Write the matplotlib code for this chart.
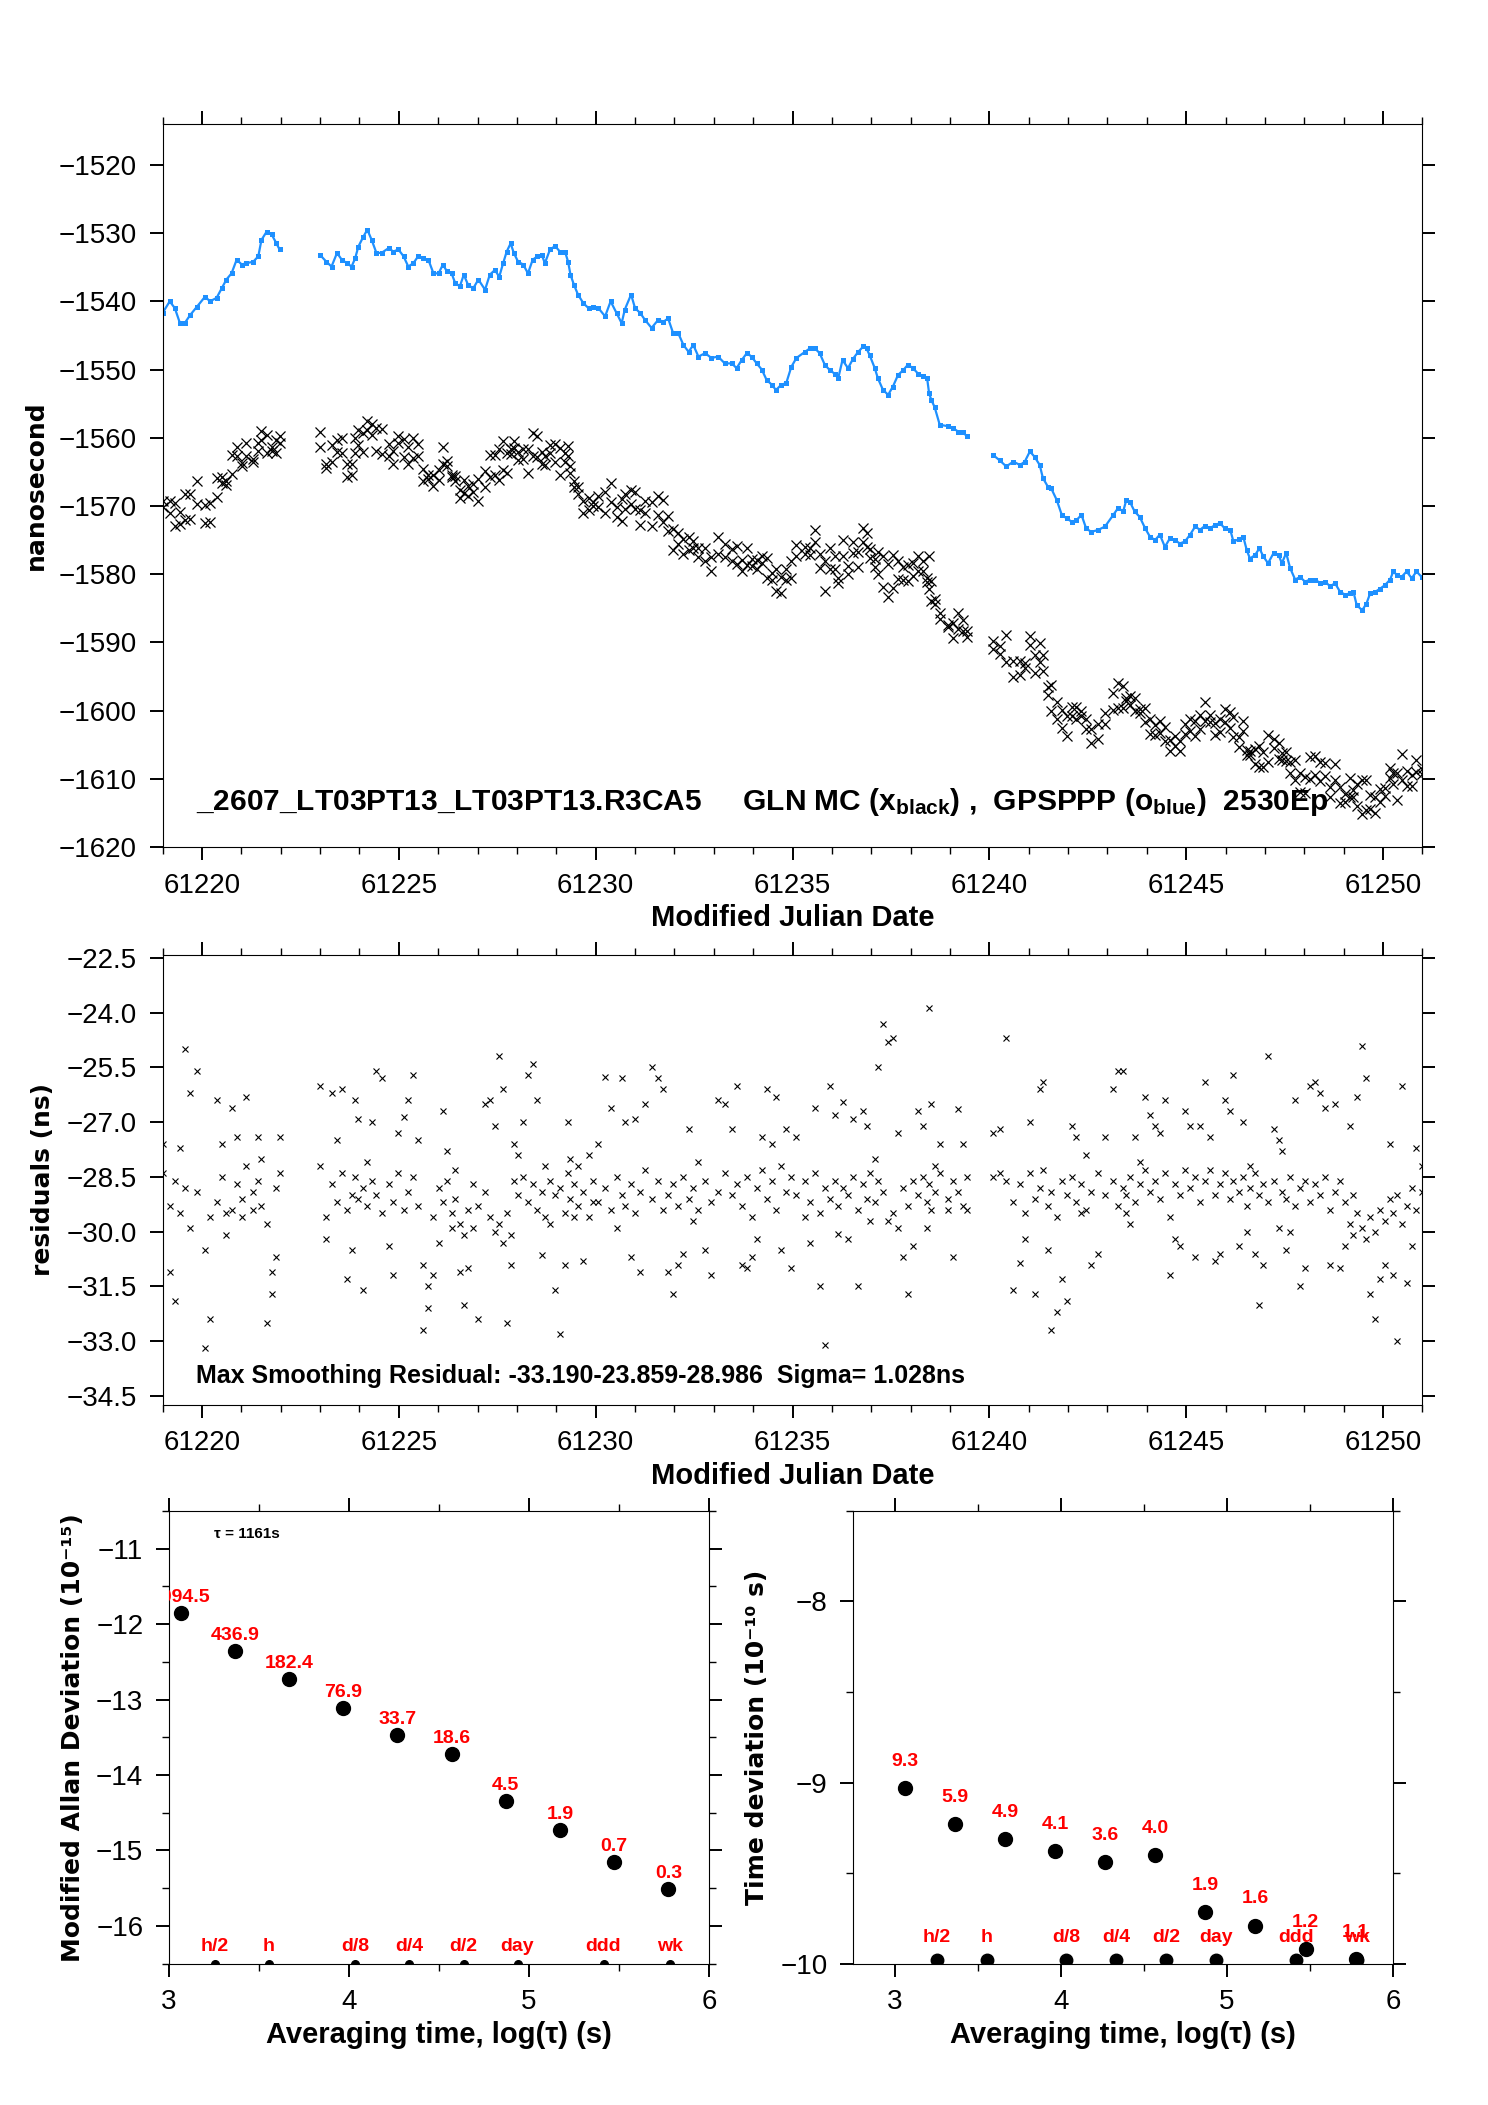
import numpy as np
import matplotlib
matplotlib.use("Agg")
import matplotlib.pyplot as plt
from matplotlib.ticker import MultipleLocator, FuncFormatter

plt.rcParams["font.family"] = ["Liberation Sans", "DejaVu Sans"]
plt.rcParams["mathtext.fontset"] = "custom"
plt.rcParams["mathtext.rm"] = "Liberation Sans"
plt.rcParams["mathtext.bf"] = "Liberation Sans:bold"
plt.rcParams["mathtext.it"] = "Liberation Sans:italic"
plt.rcParams["axes.unicode_minus"] = True

# ---- time series (MJD, GPSPPP in ns, residual GLN MC - GPSPPP in ns) ----
mjd = [
    61219.00, 61219.18, 61219.31, 61219.44, 61219.56, 61219.70, 61219.87, 61220.08, 61220.20, 61220.37,
    61220.50, 61220.62, 61220.75, 61220.88, 61221.01, 61221.13, 61221.30, 61221.43, 61221.51, 61221.64,
    61221.77, 61221.89, 61221.97,
    61223.00, 61223.16, 61223.29, 61223.43, 61223.55, 61223.68, 61223.80, 61223.89, 61223.97, 61224.10,
    61224.20, 61224.31, 61224.43, 61224.56, 61224.74, 61224.86, 61224.99, 61225.12, 61225.24, 61225.37,
    61225.49, 61225.62, 61225.75, 61225.88, 61226.01, 61226.12, 61226.22, 61226.34, 61226.43, 61226.55,
    61226.65, 61226.76, 61226.89, 61227.02,
    61227.19, 61227.31, 61227.44, 61227.55, 61227.65, 61227.74, 61227.84, 61227.92, 61228.03, 61228.16,
    61228.28, 61228.40, 61228.52, 61228.63, 61228.71, 61228.84, 61228.97, 61229.09, 61229.22, 61229.30,
    61229.36, 61229.45, 61229.55, 61229.69, 61229.82, 61229.94, 61230.07, 61230.24, 61230.38, 61230.53,
    61230.66, 61230.74, 61230.90, 61231.00, 61231.13, 61231.25, 61231.42, 61231.59, 61231.72, 61231.84,
    61231.97, 61232.10, 61232.23, 61232.36, 61232.48, 61232.61, 61232.78, 61232.94, 61233.11, 61233.28,
    61233.46, 61233.58, 61233.71, 61233.84, 61233.96, 61234.09, 61234.22, 61234.34, 61234.47, 61234.58,
    61234.72, 61234.84, 61234.97, 61235.10,
    61235.32, 61235.44, 61235.57, 61235.69, 61235.82, 61235.95, 61236.07, 61236.16, 61236.27, 61236.41,
    61236.54, 61236.67, 61236.80, 61236.88, 61236.96, 61237.09, 61237.17, 61237.30, 61237.43, 61237.55,
    61237.68, 61237.81, 61237.93, 61238.06, 61238.19, 61238.32, 61238.42, 61238.47, 61238.53, 61238.61,
    61238.74, 61238.95, 61239.08, 61239.21, 61239.34, 61239.42,
    61240.09, 61240.26, 61240.43, 61240.61, 61240.78, 61240.90, 61241.03, 61241.15, 61241.28, 61241.36,
    61241.49, 61241.57, 61241.71, 61241.84, 61241.96, 61242.09, 61242.21, 61242.34, 61242.46, 61242.59,
    61242.77, 61242.94,
    61243.15, 61243.27, 61243.40, 61243.48, 61243.57, 61243.69, 61243.82, 61243.96, 61244.08, 61244.21,
    61244.33, 61244.46, 61244.59, 61244.71, 61244.84, 61244.97, 61245.10, 61245.23, 61245.35, 61245.48,
    61245.60, 61245.73, 61245.86, 61245.98, 61246.12, 61246.20, 61246.33, 61246.45, 61246.54, 61246.62,
    61246.75, 61246.86, 61246.96, 61247.08, 61247.22, 61247.35, 61247.43, 61247.54, 61247.64, 61247.77,
    61247.89, 61248.02, 61248.14, 61248.27, 61248.41, 61248.53, 61248.66, 61248.78, 61248.91, 61249.04,
    61249.16, 61249.25, 61249.33, 61249.47, 61249.58, 61249.68, 61249.80, 61249.93, 61250.05, 61250.18,
    61250.26, 61250.35, 61250.47, 61250.60, 61250.73, 61250.85, 61250.98,
]

gps_ns = [
    -1541.7, -1540.0, -1541.0, -1543.2, -1543.2, -1542.0, -1540.8, -1539.3, -1540.0, -1539.5,
    -1538.1, -1536.8, -1535.9, -1533.9, -1534.6, -1534.4, -1534.2, -1533.4, -1531.0, -1529.8,
    -1530.2, -1531.5, -1532.4,
    -1533.2, -1534.2, -1534.9, -1532.9, -1533.9, -1534.4, -1534.9, -1533.7, -1532.0, -1530.5,
    -1529.5, -1531.0, -1532.9, -1532.9, -1532.2, -1532.7, -1532.4, -1533.4, -1534.9, -1534.4,
    -1533.4, -1533.7, -1533.9, -1535.9, -1535.9, -1534.6, -1535.6, -1535.9, -1537.3, -1537.8,
    -1536.1, -1537.6, -1538.1, -1536.8,
    -1538.3, -1536.1, -1535.4, -1536.4, -1534.4, -1532.7, -1531.5, -1532.9, -1534.2, -1534.6,
    -1535.9, -1533.9, -1533.4, -1533.2, -1534.4, -1532.4, -1531.9, -1532.7, -1532.7, -1534.2,
    -1536.1, -1537.6, -1539.0, -1540.3, -1541.0, -1540.8, -1541.0, -1542.2, -1540.0, -1541.7,
    -1543.2, -1541.2, -1539.0, -1541.0, -1541.7, -1542.7, -1543.9, -1542.7, -1543.0, -1542.5,
    -1544.7, -1544.7, -1546.4, -1547.4, -1546.4, -1548.1, -1547.6, -1548.3, -1548.1, -1549.1,
    -1549.1, -1549.8, -1548.6, -1547.6, -1548.1, -1549.1, -1550.0, -1551.5, -1552.2, -1553.0,
    -1552.2, -1552.0, -1549.6, -1548.3,
    -1547.4, -1546.9, -1546.9, -1547.6, -1549.3, -1550.1, -1550.6, -1551.3, -1548.6, -1549.8,
    -1548.4, -1547.4, -1546.6, -1546.9, -1547.9, -1549.8, -1551.3, -1553.0, -1553.7, -1552.5,
    -1550.8, -1550.1, -1549.3, -1549.8, -1550.6, -1551.0, -1551.3, -1553.5, -1554.5, -1555.5,
    -1558.1, -1558.3, -1558.6, -1559.1, -1559.1, -1559.8,
    -1562.5, -1563.3, -1564.2, -1563.5, -1564.0, -1563.5, -1562.0, -1562.8, -1564.0, -1565.9,
    -1567.2, -1567.4, -1569.1, -1571.3, -1571.8, -1572.3, -1572.1, -1571.3, -1573.3, -1573.8,
    -1573.5, -1573.0,
    -1571.3, -1570.3, -1570.8, -1569.1, -1569.4, -1570.8, -1571.6, -1573.3, -1574.5, -1575.0,
    -1574.2, -1576.0, -1574.7, -1575.0, -1575.5, -1575.2, -1574.2, -1573.0, -1573.5, -1572.9,
    -1573.3, -1572.8, -1572.5, -1573.3, -1573.5, -1575.2, -1574.9, -1574.5, -1576.5, -1577.7,
    -1577.2, -1576.2, -1577.4, -1578.4, -1576.9, -1577.2, -1578.4, -1576.9, -1579.1, -1580.8,
    -1580.4, -1581.1, -1580.8, -1580.8, -1581.3, -1581.1, -1581.8, -1581.3, -1582.6, -1583.0,
    -1582.8, -1582.6, -1584.5, -1585.3, -1584.3, -1582.7, -1582.6, -1582.1, -1581.6, -1580.8,
    -1579.6, -1580.1, -1580.4, -1579.6, -1580.6, -1579.6, -1580.4,
]

# two residual samples read at each epoch (dense band + scattered points)
resid_a = [
    -28.4, -29.3, -28.6, -29.5, -28.8, -29.9, -28.9, -30.5, -29.6, -29.2,
    -28.5, -29.5, -29.4, -28.7, -29.1, -28.2, -28.9, -28.6, -29.3, -29.8,
    -31.1, -28.8, -28.4,
    -28.2, -29.6, -28.7, -29.2, -28.4, -29.4, -29.0, -28.5, -29.1, -28.8,
    -29.3, -28.6, -29.0, -29.5, -28.7, -29.2, -28.4, -29.4, -28.9, -28.5,
    -29.3, -30.9, -31.5, -29.6, -28.8, -29.2, -28.6, -29.5, -29.1, -29.8,
    -30.1, -29.4, -28.7, -29.3,
    -28.9, -29.6, -30.0, -29.8, -30.3, -29.5, -30.1, -28.6, -29.0, -28.5,
    -29.2, -28.7, -29.4, -28.9, -29.6, -28.6, -29.0, -28.8, -29.5, -28.4,
    -29.1, -28.7, -29.3, -28.9, -29.6, -28.6, -29.2, -28.8, -29.4, -28.5,
    -29.0, -29.3, -28.7, -29.5, -28.9, -28.3, -29.1, -28.6, -29.4, -29.0,
    -28.7, -29.3, -28.5, -29.1, -28.8, -29.4, -28.6, -29.2, -28.9, -28.4,
    -29.0, -28.7, -29.3, -28.5, -29.6, -28.8, -28.3, -29.1, -28.6, -29.4,
    -28.2, -28.9, -28.5, -29.0,
    -28.6, -29.2, -28.4, -29.5, -28.8, -29.1, -28.6, -29.3, -28.8, -29.0,
    -28.5, -29.4, -28.7, -29.1, -28.4, -29.2, -28.6, -28.9, -29.7, -29.5,
    -29.9, -28.8, -29.3, -28.6, -29.0, -28.5, -29.2, -28.7, -29.4, -28.9,
    -28.4, -29.1, -28.6, -28.9, -29.3, -28.5,
    -28.5, -28.4, -28.6, -29.2, -28.7, -29.5, -28.4, -29.1, -28.8, -28.3,
    -29.3, -28.9, -29.6, -28.6, -29.0, -28.5, -29.2, -28.7, -29.4, -28.9,
    -28.4, -29.0,
    -28.6, -29.3, -28.8, -29.0, -28.5, -29.2, -28.7, -28.3, -28.9, -28.6,
    -29.1, -28.4, -29.6, -28.7, -29.0, -28.3, -28.8, -28.5, -29.2, -28.6,
    -28.3, -29.0, -28.7, -28.4, -29.1, -28.6, -28.9, -28.5, -29.3, -28.8,
    -28.4, -29.0, -28.7, -29.2, -28.6, -29.9, -28.9, -29.1, -28.5, -29.3,
    -28.8, -28.6, -29.2, -28.7, -29.0, -28.5, -29.4, -28.9, -28.6, -29.2,
    -29.8, -29.0, -29.5, -29.9, -30.2, -29.6, -30.0, -29.4, -29.7, -29.1,
    -29.5, -29.0, -29.8, -29.3, -28.8, -29.4, -28.9,
]

resid_b = [
    -27.6, -31.1, -31.9, -27.7, -25.0, -26.2, -25.6, -33.2, -32.4, -26.4,
    -27.6, -30.1, -26.6, -27.4, -29.6, -26.3, -29.4, -27.4, -28.0, -32.5,
    -31.7, -30.7, -27.4,
    -26.0, -30.2, -26.2, -27.5, -26.1, -31.3, -30.5, -26.4, -26.9, -31.6,
    -28.1, -27.0, -25.6, -25.8, -30.4, -31.2, -27.3, -26.85, -26.4, -25.7,
    -27.5, -32.7, -32.1, -31.2, -30.3, -26.7, -27.8, -29.9, -28.3, -31.1,
    -32.0, -31.0, -29.9, -32.4,
    -26.5, -26.4, -27.1, -25.2, -26.1, -32.5, -30.9, -27.6, -27.9, -27.0,
    -25.7, -25.4, -26.4, -30.65, -28.2, -29.8, -31.6, -32.8, -30.9, -27.0,
    -28.0, -29.6, -28.2, -30.8, -27.9, -29.2, -27.6, -25.75, -26.6, -29.9,
    -25.8, -27.0, -30.7, -26.9, -31.1, -26.5, -25.5, -25.8, -26.1, -31.1,
    -31.7, -30.9, -30.6, -27.2, -29.7, -28.1, -30.5, -31.2, -26.4, -26.5,
    -27.2, -26.0, -30.9, -31.0, -30.7, -30.2, -27.4, -26.1, -27.6, -26.3,
    -30.5, -27.2, -31.0, -27.4,
    -29.6, -30.3, -26.6, -31.5, -33.1, -26.0, -26.8, -30.05, -26.45, -30.2,
    -26.9, -31.5, -26.7, -27.1, -29.7, -28.0, -25.5, -24.3, -24.8, -24.7,
    -27.3, -30.7, -31.7, -30.4, -26.7, -27.1, -29.9, -23.86, -26.5, -28.2,
    -27.6, -29.4, -30.7, -26.65, -27.6, -29.4,
    -27.3, -27.2, -24.7, -31.6, -30.85, -30.2, -27.0, -31.7, -26.1, -25.9,
    -30.5, -32.7, -32.2, -31.3, -31.9, -27.1, -27.4, -29.5, -27.9, -30.9,
    -30.6, -27.4,
    -26.1, -25.6, -25.6, -29.5, -29.8, -27.4, -28.1, -26.3, -26.8, -27.1,
    -27.3, -26.4, -31.2, -30.2, -30.4, -26.7, -27.1, -30.7, -27.1, -25.9,
    -27.4, -30.8, -30.6, -26.4, -26.7, -25.7, -30.4, -27.0, -30.0, -28.2,
    -30.6, -32.0, -30.9, -25.2, -27.2, -27.5, -27.8, -30.5, -30.0, -26.4,
    -31.5, -31.0, -26.0, -25.9, -26.2, -26.6, -30.9, -26.5, -31.0, -30.4,
    -27.1, -30.1, -26.3, -24.9, -25.8, -31.7, -32.4, -31.3, -30.9, -27.6,
    -31.2, -33.0, -26.0, -31.4, -30.4, -27.7, -28.2,
]

# ---- stability panels ----
log_tau = [3.065, 3.366, 3.667, 3.968, 4.269, 4.570, 4.871, 5.172, 5.473, 5.774]
mdev = [-11.85, -12.36, -12.73, -13.11, -13.47, -13.72, -14.35, -14.73, -15.15, -15.51]
mdev_lbl = ["1094.5", "436.9", "182.4", "76.9", "33.7", "18.6", "4.5", "1.9", "0.7", "0.3"]
tdev = [-9.03, -9.23, -9.31, -9.38, -9.44, -9.40, -9.715, -9.79, -9.92, -9.975]
tdev_lbl = ["9.3", "5.9", "4.9", "4.1", "3.6", "4.0", "1.9", "1.6", "1.2", "1.1"]
ref_names = ["h/2", "h", "d/8", "d/4", "d/2", "day", "ddd", "wk"]
ref_log = [3.255, 3.556, 4.033, 4.334, 4.636, 4.936, 5.414, 5.782]
ref_mdev = -16.5
ref_tdev = -9.98

title_txt = (r"_2607_LT03PT13_LT03PT13.R3CA5     GLN MC (x$_{\mathbf{black}}$) ,  "
             r"GPSPPP (o$_{\mathbf{blue}}$)  2530Ep")
resid_txt = "Max Smoothing Residual: -33.190-23.859-28.986  Sigma= 1.028ns"

mjd = np.array(mjd)
gps = np.array(gps_ns)
ra = np.array(resid_a)
rb = np.array(resid_b)

minus = lambda fmt: FuncFormatter(lambda v, p: (fmt % v).replace("-", "\u2212"))


def style(ax):
    ax.tick_params(which="major", direction="out", length=9.5, width=1.4,
                   labelsize=20, pad=9, top=True, right=True)
    ax.tick_params(which="minor", direction="out", length=5, width=1.0,
                   top=True, right=True)
    for s in ax.spines.values():
        s.set_linewidth(0.8)


fig = plt.figure(figsize=(14.88, 21.05), dpi=100)

# top: GPSPPP and GLN MC
ax1 = fig.add_axes([0.1093, 0.5976, 0.8466, 0.3435])
breaks = np.where(np.diff(mjd) > 0.5)[0] + 1
for seg in np.split(np.arange(len(mjd)), breaks):
    ax1.plot(mjd[seg], gps[seg], color="#1E90FF", lw=1.6, marker="s", ms=3.6, mew=0)
ax1.plot(mjd, gps + ra, "x", color="black", ms=6.5, mew=0.9)
ax1.plot(mjd, gps + rb, "x", color="black", ms=6.5, mew=0.9)
ax1.set_xlim(61219, 61251)
ax1.set_ylim(-1620, -1514)
ax1.xaxis.set_major_locator(MultipleLocator(5))
ax1.xaxis.set_minor_locator(MultipleLocator(1))
ax1.yaxis.set_major_locator(MultipleLocator(10))
ax1.xaxis.set_major_formatter(minus("%.0f"))
ax1.yaxis.set_major_formatter(minus("%.0f"))
style(ax1)
ax1.set_ylabel("nanosecond", fontsize=18, fontweight="bold", family="DejaVu Sans", labelpad=8)
ax1.set_xlabel("Modified Julian Date", fontsize=21, fontweight="bold", labelpad=4)
ax1.text(61219.85, -1614.6, title_txt, fontsize=21.5, fontweight="bold", va="baseline")

# middle: residuals
ax2 = fig.add_axes([0.1093, 0.3327, 0.8466, 0.2136])
ax2.plot(mjd, ra, "x", color="black", ms=4.8, mew=0.8)
ax2.plot(mjd, rb, "x", color="black", ms=4.8, mew=0.8)
ax2.set_xlim(61219, 61251)
ax2.set_ylim(-34.74, -22.42)
ax2.xaxis.set_major_locator(MultipleLocator(5))
ax2.xaxis.set_minor_locator(MultipleLocator(1))
ax2.yaxis.set_major_locator(MultipleLocator(1.5))
ax2.xaxis.set_major_formatter(minus("%.0f"))
ax2.yaxis.set_major_formatter(minus("%.1f"))
style(ax2)
ax2.set_ylabel("residuals (ns)", fontsize=18, fontweight="bold", family="DejaVu Sans", labelpad=8)
ax2.set_xlabel("Modified Julian Date", fontsize=21, fontweight="bold", labelpad=4)
ax2.text(61219.85, -34.15, resid_txt, fontsize=18, fontweight="bold", va="baseline")

# bottom left: modified Allan deviation
ax3 = fig.add_axes([0.1136, 0.0672, 0.3629, 0.2150])
ax3.plot(log_tau, mdev, "o", color="black", ms=10)
ax3.plot(ref_log, [ref_mdev] * len(ref_log), "o", color="black", ms=5.5)
for x, y, s in zip(log_tau, mdev, mdev_lbl):
    ax3.annotate(s, (x, y), xytext=(0, 5), textcoords="offset points", ha="center",
                 va="bottom", color="red", fontsize=14, fontweight="bold", annotation_clip=False,
                 clip_on=True)
for x, s in zip(ref_log, ref_names):
    ax3.annotate(s, (x, ref_mdev), xytext=(0, 6), textcoords="offset points", ha="center",
                 va="bottom", color="red", fontsize=14, fontweight="bold")
ax3.text(3.25, -10.8, "\u03c4 = 1161s", fontsize=11, fontweight="bold", va="center")
ax3.set_xlim(3, 6)
ax3.set_ylim(-16.5, -10.5)
ax3.xaxis.set_major_locator(MultipleLocator(1))
ax3.xaxis.set_minor_locator(MultipleLocator(0.5))
ax3.yaxis.set_major_locator(MultipleLocator(1))
ax3.yaxis.set_minor_locator(MultipleLocator(0.5))
ax3.yaxis.set_major_formatter(minus("%.0f"))
style(ax3)
ax3.set_ylabel("Modified Allan Deviation (10\u207b\u00b9\u2075)", fontsize=18, fontweight="bold",
               family="DejaVu Sans", labelpad=8)
ax3.set_xlabel("Averaging time, log(\u03c4) (s)", fontsize=21, fontweight="bold", labelpad=4)

# bottom right: time deviation
ax4 = fig.add_axes([0.5733, 0.0672, 0.3629, 0.2150])
ax4.plot(log_tau, tdev, "o", color="black", ms=10)
ax4.plot(ref_log, [ref_tdev] * len(ref_log), "o", color="black", ms=9)
for x, y, s in zip(log_tau, tdev, tdev_lbl):
    ax4.annotate(s, (x, y), xytext=(0, 13), textcoords="offset points", ha="center",
                 va="bottom", color="red", fontsize=14, fontweight="bold")
for x, s in zip(ref_log, ref_names):
    ax4.annotate(s, (x, ref_tdev), xytext=(0, 10), textcoords="offset points", ha="center",
                 va="bottom", color="red", fontsize=14, fontweight="bold")
ax4.set_xlim(2.75, 6)
ax4.set_ylim(-10, -7.5)
ax4.xaxis.set_major_locator(MultipleLocator(1))
ax4.xaxis.set_minor_locator(MultipleLocator(0.5))
ax4.yaxis.set_major_locator(MultipleLocator(1))
ax4.yaxis.set_minor_locator(MultipleLocator(0.5))
ax4.yaxis.set_major_formatter(minus("%.0f"))
style(ax4)
ax4.set_ylabel("Time deviation (10\u207b\u00b9\u2070 s)", fontsize=18, fontweight="bold",
               family="DejaVu Sans", labelpad=8)
ax4.set_xlabel("Averaging time, log(\u03c4) (s)", fontsize=21, fontweight="bold", labelpad=4)

fig.savefig("out.png", dpi=100)
